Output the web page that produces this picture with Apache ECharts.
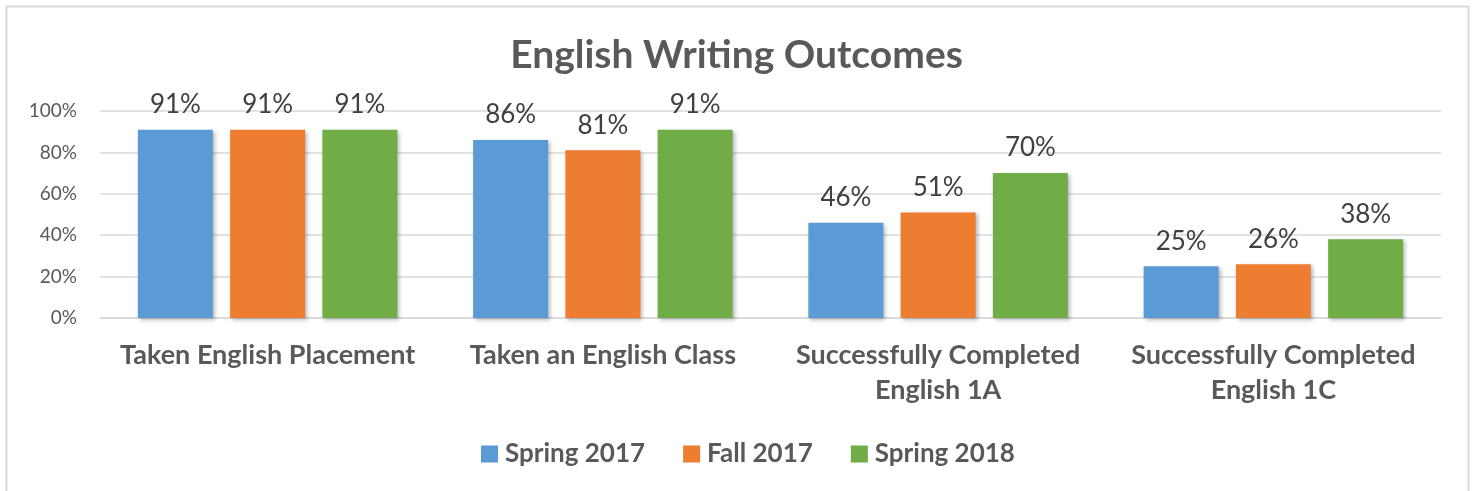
<!DOCTYPE html>
<html>
<head>
<meta charset="utf-8">
<title>English Writing Outcomes</title>
<script src="https://cdn.jsdelivr.net/npm/echarts@6/dist/echarts.min.js"></script>
<style>
  html, body { margin: 0; padding: 0; background: #fff; }
  #chart { width: 1473px; height: 491px; }
</style>
</head>
<body>
<div id="chart"></div>
<script>
// Outcome categories and per-term percentages
const categories = [
  'Taken English Placement',
  'Taken an English Class',
  'Successfully Completed\nEnglish 1A',
  'Successfully Completed\nEnglish 1C'
];
const spring2017 = [91, 86, 46, 25];
const fall2017 = [91, 81, 51, 26];
const spring2018 = [91, 91, 70, 38];
const yTicks = [0, 20, 40, 60, 80, 100];

const FONT = 'Lato, "Open Sans", sans-serif';
const chart = echarts.init(document.getElementById('chart'), null, { renderer: 'canvas' });

function barSeries(name, data, color) {
  return {
    name: name,
    type: 'bar',
    data: data,
    barWidth: 75,
    barGap: '23%',
    itemStyle: {
      color: color,
      shadowColor: 'rgba(0,0,0,0.28)',
      shadowBlur: 4,
      shadowOffsetX: 2,
      shadowOffsetY: 2
    },
    label: {
      show: true,
      position: 'top',
      distance: 12,
      formatter: '{c}%',
      fontFamily: FONT,
      fontSize: 26,
      color: '#404040'
    }
  };
}

chart.setOption({
  animation: false,
  backgroundColor: '#ffffff',
  graphic: [{
    type: 'rect',
    shape: { x: 6.5, y: 6.5, width: 1462, height: 520 },
    style: { fill: 'none', stroke: '#d9d9d9', lineWidth: 2 },
    silent: true,
    z: -1
  }],
  title: {
    text: 'English Writing Outcomes',
    left: 'center',
    top: 31,
    textStyle: {
      fontFamily: FONT,
      fontSize: 39,
      fontWeight: 'bold',
      color: '#595959'
    }
  },
  legend: {
    bottom: 'auto',
    top: 436,
    left: 476,
    icon: 'rect',
    itemWidth: 17,
    itemHeight: 17,
    itemGap: 38,
    textStyle: {
      fontFamily: FONT,
      fontSize: 26,
      fontWeight: 'bold',
      color: '#595959',
      padding: [0, 0, 0, 2]
    },
    data: ['Spring 2017', 'Fall 2017', 'Spring 2018']
  },
  grid: {
    left: 100,
    right: 32,
    top: 111,
    bottom: 173,
    containLabel: false
  },
  xAxis: {
    type: 'category',
    data: categories,
    axisTick: { show: false },
    axisLine: { lineStyle: { color: '#d9d9d9', width: 1.5 } },
    axisLabel: {
      interval: 0,
      margin: 20,
      fontFamily: FONT,
      fontSize: 27,
      fontWeight: 'bold',
      lineHeight: 35,
      color: '#595959'
    }
  },
  yAxis: {
    type: 'value',
    min: yTicks[0],
    max: yTicks[yTicks.length - 1],
    interval: yTicks[1] - yTicks[0],
    axisLine: { show: false },
    axisTick: { show: false },
    splitLine: { lineStyle: { color: '#d9d9d9', width: 1.5 } },
    axisLabel: {
      margin: 23,
      formatter: '{value}%',
      fontFamily: FONT,
      fontSize: 19,
      color: '#595959'
    }
  },
  series: [
    barSeries('Spring 2017', spring2017, '#5B9BD5'),
    barSeries('Fall 2017', fall2017, '#ED7D31'),
    barSeries('Spring 2018', spring2018, '#70AD47')
  ]
});
</script>
</body>
</html>
